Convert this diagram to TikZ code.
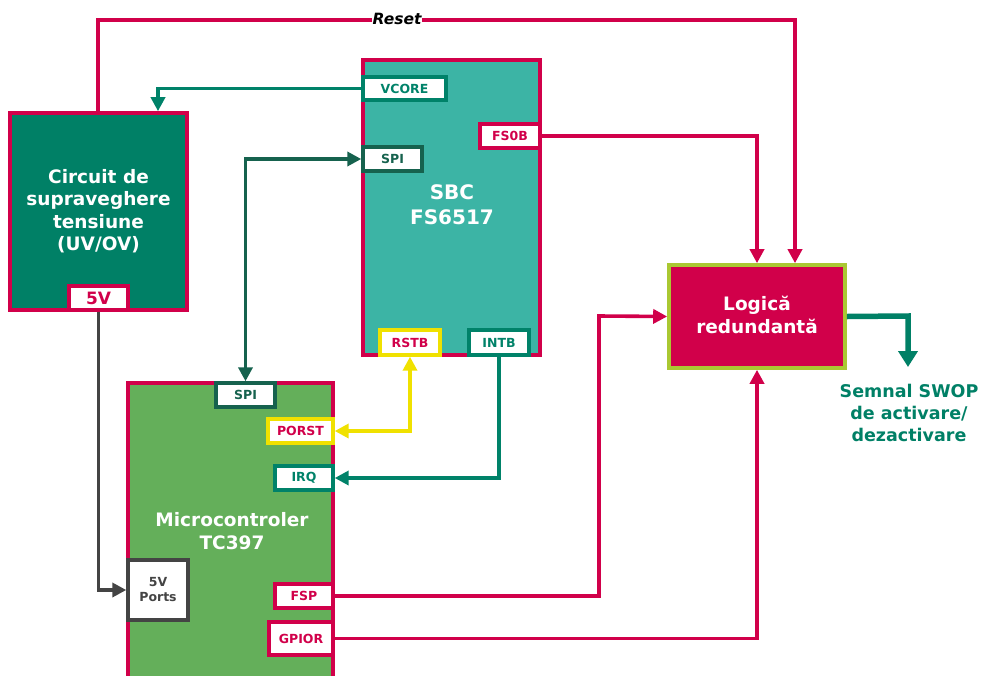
\documentclass[tikz,border=0pt]{standalone}
\usepackage{fontspec}
\setmainfont{DejaVu Sans}
\usetikzlibrary{arrows.meta}
\definecolor{crim}{RGB}{209,0,74}
\definecolor{dgreen}{RGB}{0,128,102}
\definecolor{sbcteal}{RGB}{60,180,165}
\definecolor{mcgreen}{RGB}{100,175,90}
\definecolor{tealb}{RGB}{0,130,105}
\definecolor{spig}{RGB}{22,98,78}
\definecolor{yel}{RGB}{240,225,0}
\definecolor{lime}{RGB}{170,200,50}
\definecolor{dgray}{RGB}{68,68,68}
\tikzset{
  block/.style={draw=crim,line width=3.6pt,inner sep=0pt},
  tag/.style={draw=#1,fill=white,line width=3.4pt,inner sep=0pt,font=\bfseries\fontsize{12.5}{15}\selectfont},
  tip/.tip={Triangle[length=14pt,width=14pt]},
  wire/.style={line width=3.6pt,draw=#1,-tip},
  dwire/.style={line width=3.6pt,draw=#1,tip-tip},
  title/.style={text=white,font=\bfseries\fontsize{18.5}{22.5}\selectfont,align=center}
}
\begin{document}
\begin{tikzpicture}[x=1pt,y=-1pt]
\useasboundingbox (0,0) rectangle (990,675);
\clip (0,0) rectangle (990,675);
% blocks
\node[block,fill=dgreen,minimum width=177,minimum height=197] (circ) at (98.5,211.5) {};
\node[title] (circt) at (98.5,211) {Circuit de\\supraveghere\\tensiune\\(UV/OV)};
\node[block,fill=sbcteal,minimum width=177,minimum height=295] (sbc) at (451.5,207.5) {};
\node[title,font=\bfseries\fontsize{20}{25}\selectfont] (sbct) at (452,205) {SBC\\FS6517};
\node[block,fill=mcgreen,minimum width=205,minimum height=320] (mc) at (230.5,543) {};
\node[title] (mct) at (232,531) {Microcontroler\\TC397};
\node[block,draw=lime,fill=crim,minimum width=176,minimum height=103] (logic) at (757,316.5) {};
\node[title] (logict) at (757,315) {Logică\\redundantă};
\node[text=dgreen,font=\bfseries\fontsize{17.5}{22}\selectfont,align=center] (semnal) at (909,413) {Semnal SWOP\\de activare/\\dezactivare};
% tags
\node[tag=crim,text=crim,font=\bfseries\fontsize{17}{18}\selectfont,minimum width=59,minimum height=24] (five) at (98.5,298) {5V};
\node[tag=tealb,text=tealb,minimum width=83,minimum height=23] (vcore) at (404.5,88.5) {VCORE};
\node[tag=crim,text=crim,minimum width=60,minimum height=24] (fs0b) at (510,136) {FS0B};
\node[tag=spig,text=spig,minimum width=59,minimum height=24] (spis) at (392.5,159) {SPI};
\node[tag=yel,text=crim,minimum width=60,minimum height=25] (rstb) at (410,342.5) {RSTB};
\node[tag=tealb,text=tealb,minimum width=60,minimum height=25] (intb) at (499,342.5) {INTB};
\node[tag=spig,text=spig,minimum width=59,minimum height=24] (spim) at (245.5,395) {SPI};
\node[tag=yel,text=crim,minimum width=65,minimum height=24] (porst) at (300.5,431) {PORST};
\node[tag=tealb,text=tealb,minimum width=58,minimum height=24] (irq) at (304,478) {IRQ};
\node[tag=dgray,text=dgray,align=center,font=\bfseries\fontsize{12.5}{15}\selectfont,minimum width=60,minimum height=60] (ports) at (158,590) {5V\\Ports};
\node[tag=crim,text=crim,minimum width=58,minimum height=24] (fsp) at (304,596) {FSP};
\node[tag=crim,text=crim,minimum width=64,minimum height=33] (gpior) at (301,638.5) {GPIOR};
% connectors
\coordinate (rs1) at (98,20);
\coordinate (rs2) at (795,20);
\draw[wire=crim] (circ.north -| rs1) -- (rs1) -- (rs2) -- (rs2 |- logic.north);
\node[fill=white,inner sep=1pt,font=\bfseries\itshape\fontsize{15.5}{18}\selectfont] (reset) at (397,19) {Reset};
\draw[wire=tealb] (vcore.west) -| (158,0 |- circ.north);
\draw[wire=crim] (fs0b.east) -| (757,0 |- logic.north);
\draw[dwire=spig] (spis.west) -| (spim.north);
\draw[dwire=yel] (porst.east) -| (rstb.south);
\draw[wire=tealb] (intb.south) |- (irq.east);
\draw[wire=dgray] (five.south) |- (ports.west);
\draw[wire=crim] (fsp.east) -| (599,316) -- (logic.west);
\draw[wire=crim] (gpior.east) -| (logic.south);
\coordinate (out1) at (908,316);
\coordinate (out2) at (908,367);
\draw[line width=5.5pt,draw=dgreen,-{Triangle[length=16pt,width=19pt]}] (logic.east) -- (out1) -- (out2);
\end{tikzpicture}
\end{document}
